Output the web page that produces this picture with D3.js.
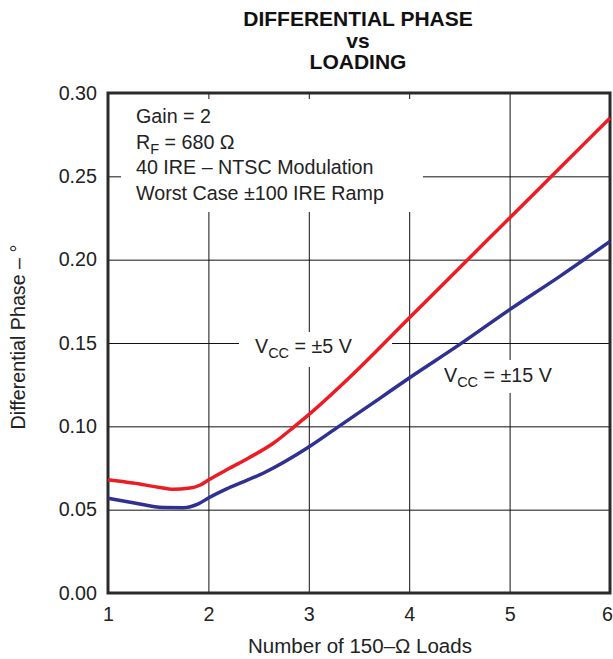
<!DOCTYPE html>
<html>
<head>
<meta charset="utf-8">
<script src="https://cdn.jsdelivr.net/npm/d3@7"></script>
<style>
  body { margin: 0; background: #fff; }
  svg { display: block; font-family: "Liberation Sans", Arial, sans-serif; }
</style>
</head>
<body>
<svg></svg>
<script>
/*
*  DATA
*/

let titleLines = ['DIFFERENTIAL PHASE', 'vs', 'LOADING']
let xTicks = [1, 2, 3, 4, 5, 6]
let yTicks = [0, 0.05, 0.10, 0.15, 0.20, 0.25, 0.30]

// Vcc = ±5 V
let loads5 = [1, 1.25, 1.5, 1.65, 1.8, 1.92, 2, 2.2, 2.4, 2.65, 2.85, 3, 3.4, 4, 4.5, 5, 5.5, 6]
let phase5 = [0.068, 0.066, 0.0635, 0.0622, 0.0628, 0.0648, 0.0678, 0.0745, 0.081, 0.090, 0.0995, 0.107, 0.129, 0.165, 0.195, 0.225, 0.255, 0.285]

// Vcc = ±15 V
let loads15 = [1, 1.25, 1.55, 1.75, 1.9, 2, 2.2, 2.55, 3, 3.3, 3.7, 4, 4.5, 5, 5.5, 6]
let phase15 = [0.0568, 0.0542, 0.0513, 0.0512, 0.0535, 0.057, 0.063, 0.072, 0.0876, 0.100, 0.1165, 0.129, 0.149, 0.170, 0.190, 0.211]

let noteLines = ['Gain = 2', 'RF', '40 IRE \u2013 NTSC Modulation', 'Worst Case \u00b1100 IRE Ramp']

/*
*  RUN
*/

let width = 613,
    height = 659,
    margin = {left: 108, top: 93, right: 3, bottom: 66},
    pw = width - margin.left - margin.right,
    ph = height - margin.top - margin.bottom,
    fs = 19.7

let svg = d3.select('svg').attr('width', width).attr('height', height)

let x = d3.scaleLinear().domain([1, 6]).range([0, pw])
let y = d3.scaleLinear().domain([0, 0.30]).range([ph, 0])

let g = svg.append('g').attr('transform', `translate(${margin.left},${margin.top})`)

// grid
g.append('g').attr('class', 'grid')
  .call(d3.axisBottom(x).tickValues(xTicks).tickSize(-ph).tickFormat(''))
  .attr('transform', `translate(0,${ph})`)
g.append('g').attr('class', 'grid')
  .call(d3.axisLeft(y).tickValues(yTicks).tickSize(-pw).tickFormat(''))
g.selectAll('.grid .domain').remove()
g.selectAll('.grid line').attr('stroke', '#111').attr('stroke-width', 1)

// white patches behind the labels (they hide the grid)
let patches = [
  [121 - 108, 99 - 93, 423 - 121, 212 - 99],
  [239 - 108, 332 - 93, 392 - 239, 367 - 332],
  [433 - 108, 360 - 93, 567 - 433, 393 - 360]
]
g.selectAll('rect.patch').data(patches).enter().append('rect')
  .attr('class', 'patch')
  .attr('x', d => d[0]).attr('y', d => d[1])
  .attr('width', d => d[2]).attr('height', d => d[3])
  .attr('fill', '#fff')

// frame
g.append('rect').attr('width', pw).attr('height', ph)
  .attr('fill', 'none').attr('stroke', '#2a2a2a').attr('stroke-width', 3)

// curves
let line = d3.line().x(d => x(d[0])).y(d => y(d[1])).curve(d3.curveMonotoneX)
g.append('path').datum(d3.zip(loads5, phase5)).attr('d', line)
  .attr('fill', 'none').attr('stroke', '#ed1c24').attr('stroke-width', 3.5)
g.append('path').datum(d3.zip(loads15, phase15)).attr('d', line)
  .attr('fill', 'none').attr('stroke', '#2e3192').attr('stroke-width', 3.5)

// axes labels
let xa = g.append('g').attr('transform', `translate(0,${ph})`)
  .call(d3.axisBottom(x).tickValues(xTicks).tickSize(0).tickPadding(14).tickFormat(d3.format('d')))
let ya = g.append('g')
  .call(d3.axisLeft(y).tickValues(yTicks).tickSize(0).tickPadding(11).tickFormat(d3.format('.2f')))
;[xa, ya].forEach(a => {
  a.select('.domain').remove()
  a.selectAll('text').attr('font-size', fs).attr('fill', '#222')
    .attr('font-family', '"Liberation Sans", Arial, sans-serif')
})
// last x label sits against the page edge
xa.selectAll('text').filter(d => d === 6).attr('dx', -3)

// titles
svg.append('text').attr('x', 358).attr('text-anchor', 'middle')
  .attr('font-size', 21).attr('font-weight', 'bold').attr('fill', '#111')
  .selectAll('tspan').data(titleLines).enter().append('tspan')
  .attr('x', 358).attr('y', (d, i) => 26 + i * 21.5).text(d => d)

svg.append('text').attr('x', 360).attr('y', 653).attr('text-anchor', 'middle')
  .attr('font-size', 20.5).attr('fill', '#222').text('Number of 150\u2013\u03a9 Loads')

svg.append('text').attr('transform', 'translate(25,337) rotate(-90)')
  .attr('text-anchor', 'middle').attr('font-size', fs).attr('fill', '#222')
  .text('Differential Phase \u2013 \u00b0')

// note block
let note = svg.append('g').attr('font-size', fs).attr('fill', '#222')
noteLines.forEach((t, i) => {
  let tx = note.append('text').attr('x', 136).attr('y', 123 + i * 25.5)
  if (t === 'RF') {
    tx.append('tspan').text('R')
    tx.append('tspan').attr('font-size', 14.5).attr('dy', 5).text('F')
    tx.append('tspan').attr('dy', -5).text(' = 680 \u03a9')
  } else {
    tx.text(t)
  }
})

// curve labels
function vccLabel(xp, yp, v){
  let t = svg.append('text').attr('x', xp).attr('y', yp).attr('font-size', fs).attr('fill', '#222')
  t.append('tspan').text('V')
  t.append('tspan').attr('font-size', 14.5).attr('dy', 5).text('CC')
  t.append('tspan').attr('dy', -5).text(` = \u00b1${v} V`)
}
vccLabel(255, 353, 5)
vccLabel(444, 382, 15)
</script>
</body>
</html>
